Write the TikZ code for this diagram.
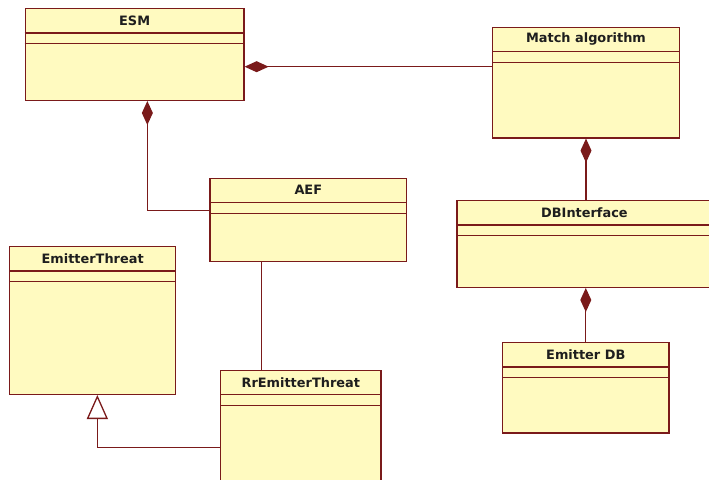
\documentclass[tikz,border=0pt]{standalone}
\usepackage{fontspec}
\setsansfont{DejaVu Sans}
\usetikzlibrary{arrows.meta}
\definecolor{umlfill}{RGB}{255,250,192}
\definecolor{umlline}{RGB}{122,26,26}
\definecolor{umltext}{RGB}{30,30,30}

\begin{document}
\begin{tikzpicture}[x=1pt,y=-1pt,
  classbox/.style={draw=umlline,fill=umlfill,line width=1.3pt,anchor=north west,inner sep=0pt},
  classname/.style={font=\sffamily\bfseries\fontsize{12.9}{14}\selectfont,text=umltext},
  assoc/.style={draw=umlline,line width=1.3pt},
  compose/.style={assoc,{Diamond[length=24pt,width=11pt,fill=umlline]}-},
  isa/.style={assoc,-{Triangle[open,length=24pt,width=21pt,fill=white]}}]
  \useasboundingbox (0,0) rectangle (709,479);
  \clip (0,0) rectangle (709,479);
  % classes
  \node[classbox,minimum width=218.6pt,minimum height=91.7pt] (esm) at (24.7,8) {};
  \node[classbox,minimum width=186.7pt,minimum height=110.6pt] (match) at (492,26.7) {};
  \node[classbox,minimum width=196.7pt,minimum height=83.3pt] (aef) at (209.3,177.7) {};
  \node[classbox,minimum width=255pt,minimum height=86.7pt] (dbi) at (456.3,200) {};
  \node[classbox,minimum width=166.3pt,minimum height=90.3pt] (emdb) at (502,342) {};
  \node[classbox,minimum width=166pt,minimum height=147.7pt] (et) at (9,246) {};
  \node[classbox,minimum width=160.3pt,minimum height=130pt] (rr) at (220,369.7) {};
  \foreach \c in {esm,match,aef,dbi,emdb,et,rr} {
    \draw[assoc] ([yshift=-25pt]\c.north west) -- ([yshift=-25pt]\c.north east);
    \draw[assoc] ([yshift=-35.5pt]\c.north west) -- ([yshift=-35.5pt]\c.north east);
  }
  \node[classname] (esmname) at ([yshift=-12.5pt]esm.north) {ESM};
  \node[classname] (matchname) at ([yshift=-12.5pt]match.north) {Match algorithm};
  \node[classname] (aefname) at ([yshift=-12.5pt]aef.north) {AEF};
  \node[classname] (dbiname) at ([yshift=-12.5pt]dbi.north) {DBInterface};
  \node[classname] (emdbname) at ([yshift=-12.5pt]emdb.north) {Emitter DB};
  \node[classname] (etname) at ([yshift=-12.5pt]et.north) {EmitterThreat};
  \node[classname] (rrname) at ([yshift=-12.5pt]rr.north) {RrEmitterThreat};
  % relations
  \draw[compose] ([yshift=-58.7pt]esm.north east) -- ([yshift=-40pt]match.north west);
  \draw[compose] ([xshift=12.7pt]esm.south) |- ([yshift=-33pt]aef.north west);
  \draw[compose] (match.south) -- (match.south |- dbi.north);
  \draw[compose] (dbi.south -| emdb.north) -- (emdb.north);
  \draw[assoc] ([xshift=-46.7pt]aef.south) -- ([xshift=-46.7pt]aef.south |- rr.north);
  \draw[isa] ([yshift=-77.6pt]rr.north west) -| ([xshift=4.7pt]et.south);
\end{tikzpicture}
\end{document}
